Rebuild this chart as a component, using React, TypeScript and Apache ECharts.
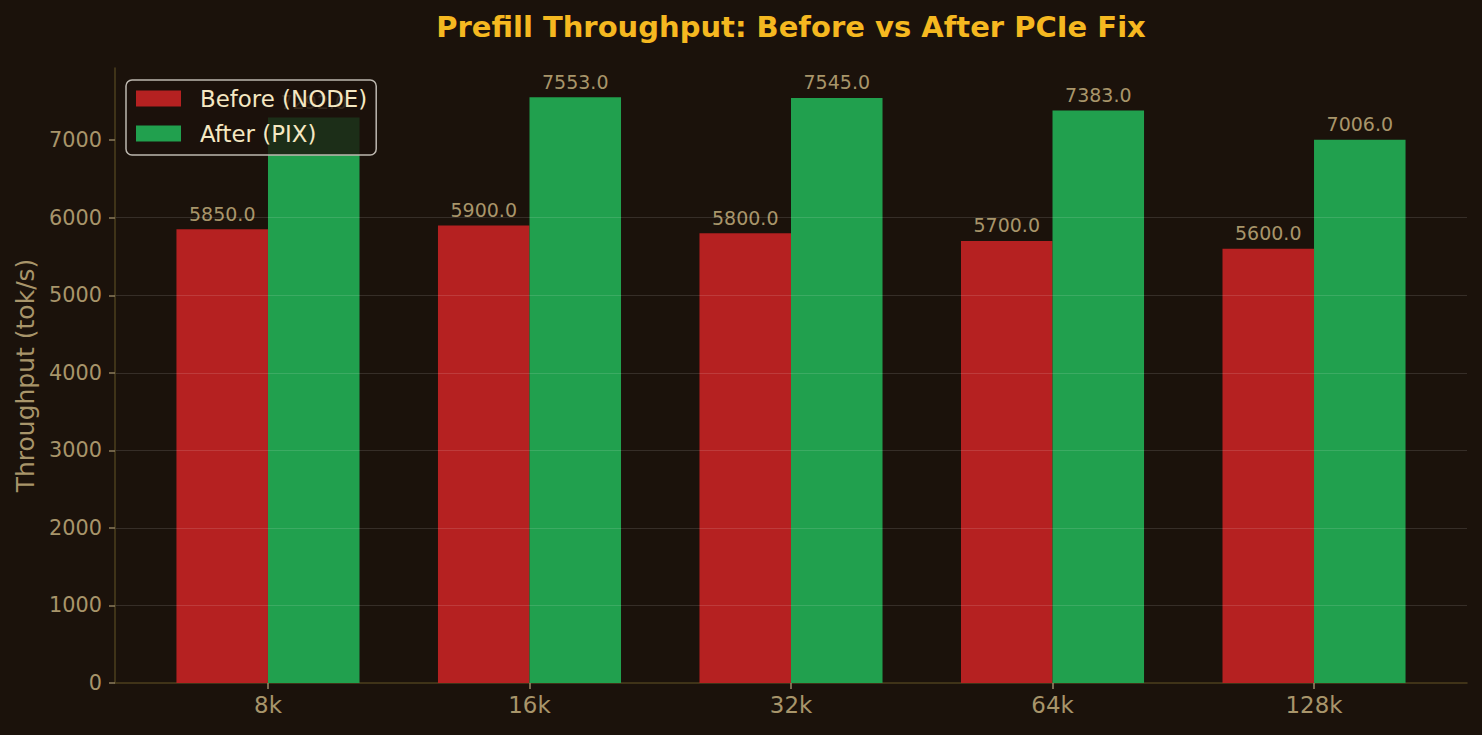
import React, { useEffect, useRef } from 'react';
import * as echarts from 'echarts';

const categories = ['8k', '16k', '32k', '64k', '128k'];
const beforeValues = [5850, 5900, 5800, 5700, 5600];
const afterValues = [7292, 7553, 7545, 7383, 7006];
const yTickValues = [0, 1000, 2000, 3000, 4000, 5000, 6000, 7000];
const categoryIndex = [0, 1, 2, 3, 4];

const FONT = 'DejaVu Sans';
const BG = '#1b120b';
const TAN = '#a8956a';

export default function App() {
  const ref = useRef<HTMLDivElement>(null);

  useEffect(() => {
    document.body.style.margin = '0';
    document.body.style.background = BG;
    const chart = echarts.init(ref.current!, null, { renderer: 'svg' });

    const W = 1482;
    const left = 115;
    const right = 15;
    const plotW = W - left - right;
    const xMin = -0.585;
    const xMax = 4.585;
    const barW = (0.35 * plotW) / (xMax - xMin);
    const yMax = Math.max(...afterValues, ...beforeValues) * 1.05;

    const labelCfg = {
      show: true,
      position: 'top' as const,
      distance: 6,
      color: TAN,
      fontSize: 19,
      fontFamily: FONT,
      formatter: (p: any) => Number(p.value[1]).toFixed(1),
    };

    chart.setOption({
      animation: false,
      backgroundColor: BG,
      textStyle: { fontFamily: FONT },
      graphic: [
        {
          type: 'text',
          x: left + plotW / 2,
          y: 27,
          style: {
            text: 'Prefill Throughput: Before vs After PCIe Fix',
            textAlign: 'center',
            textVerticalAlign: 'middle',
            fontSize: 29,
            fontWeight: 'bold',
            fontFamily: FONT,
            fill: '#f5b820',
          },
        },
      ],
      legend: {
        orient: 'vertical',
        left: 126,
        top: 80,
        padding: [7, 9, 10, 10],
        itemWidth: 45,
        itemHeight: 16,
        itemGap: 12,
        backgroundColor: 'rgba(27,18,11,0.8)',
        borderColor: '#bdb8b0',
        borderWidth: 1.5,
        borderRadius: 6,
        icon: 'rect',
        textStyle: {
          color: '#f5e8c2',
          fontSize: 22.9,
          fontFamily: FONT,
          padding: [0, 0, 0, 14],
        },
        data: ['Before (NODE)', 'After (PIX)'],
      },
      grid: { left, right, top: 68, bottom: 52, containLabel: false },
      xAxis: {
        type: 'value',
        min: xMin,
        max: xMax,
        splitLine: { show: false },
        axisLine: { show: true, onZero: false, lineStyle: { color: '#4d3f1e', width: 1.5 } },
        axisTick: {
          show: true,
          customValues: categoryIndex,
          length: 6,
          lineStyle: { color: '#9c8b68', width: 1.5 },
        },
        axisLabel: {
          customValues: categoryIndex,
          formatter: (v: number) => categories[Math.round(v)],
          color: TAN,
          fontSize: 22.9,
          fontFamily: FONT,
          margin: 10,
        },
      },
      yAxis: {
        type: 'value',
        min: 0,
        max: yMax,
        z: 3,
        name: 'Throughput (tok/s)',
        nameLocation: 'middle',
        nameRotate: 90,
        nameGap: 73,
        nameTextStyle: { color: TAN, fontSize: 25, fontFamily: FONT },
        axisLine: { show: true, onZero: false, lineStyle: { color: '#4d3f1e', width: 1.5 } },
        axisTick: {
          show: true,
          customValues: yTickValues,
          length: 6,
          lineStyle: { color: '#8c7c5c', width: 1.5 },
        },
        axisLabel: {
          customValues: yTickValues,
          formatter: (v: number) => String(Math.round(v)),
          color: TAN,
          fontSize: 20.8,
          fontFamily: FONT,
          margin: 13,
        },
        splitLine: {
          show: true,
          showMinLine: false,
          showMaxLine: false,
          lineStyle: { color: 'rgba(255,255,255,0.12)', width: 1.2 },
        },
      },
      series: [
        {
          name: 'Before (NODE)',
          type: 'bar',
          barWidth: barW,
          barGap: '0%',
          itemStyle: { color: '#b52121' },
          label: labelCfg,
          data: beforeValues.map((v, i) => [categoryIndex[i], v]),
        },
        {
          name: 'After (PIX)',
          type: 'bar',
          barWidth: barW,
          barGap: '0%',
          itemStyle: { color: '#21a04e' },
          label: labelCfg,
          data: afterValues.map((v, i) => [categoryIndex[i], v]),
        },
      ],
    });

    return () => chart.dispose();
  }, []);

  return <div ref={ref} style={{ width: 1482, height: 735 }} />;
}
